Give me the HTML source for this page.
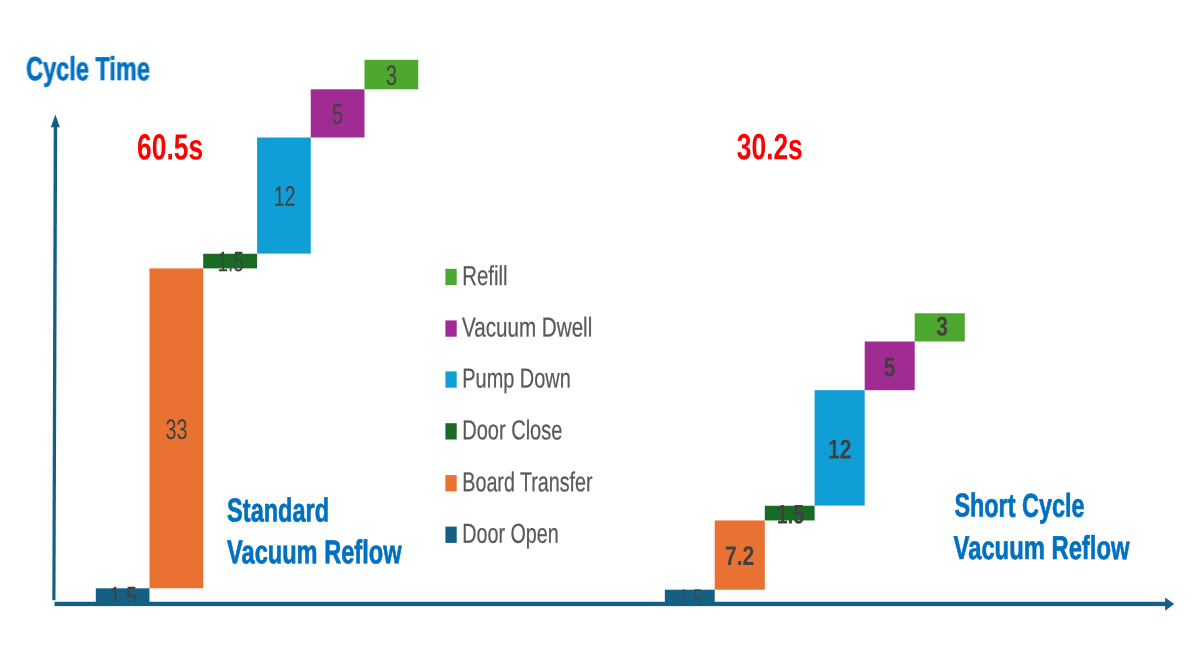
<!DOCTYPE html>
<html lang="en">
<head>
<meta charset="utf-8">
<title>Cycle Time – Standard vs Short Cycle Vacuum Reflow</title>
<style>
  html, body { margin: 0; padding: 0; background: #ffffff; }
  body { width: 1200px; height: 650px; overflow: hidden; }
  svg { display: block; }
  text { font-family: "Liberation Sans", Arial, Helvetica, sans-serif; text-rendering: geometricPrecision; }
  .title { font-weight: 700; font-size: 33px; fill: #0070C0; stroke: #0070C0; stroke-width: 0.7px; stroke-linejoin: round; }
  .total { font-weight: 700; font-size: 36.4px; fill: #FF0000; }
  .leg   { font-weight: 400; font-size: 27.4px; fill: #595959; stroke: #595959; stroke-width: 0.25px; }
  .lab   { font-weight: 400; font-size: 28.2px; fill: #404040; text-anchor: middle; }
  .labb  { font-weight: 700; font-size: 27px; fill: #404040; text-anchor: middle; }
</style>
</head>
<body>
<svg width="1200" height="650" viewBox="0 0 1200 650">
  <defs>
    <filter id="soft" x="0" y="0" width="1200" height="650" filterUnits="userSpaceOnUse" color-interpolation-filters="sRGB">
      <feGaussianBlur stdDeviation="0.45"/>
    </filter>
    <clipPath id="above-axis"><rect x="0" y="0" width="1200" height="604"/></clipPath>
  </defs>
  <rect x="0" y="0" width="1200" height="650" fill="#ffffff"/>
  <g id="chart" filter="url(#soft)">

  <!-- ===== left waterfall: Standard Vacuum Reflow ===== -->
  <g id="bars-left" shape-rendering="geometricPrecision">
    <rect x="95.8"   y="588.3"  width="53.7"  height="15.5"  fill="#156082"/>
    <rect x="149.5"  y="268.4"  width="53.7"  height="319.9" fill="#E97132"/>
    <rect x="203.2"  y="253.75" width="53.9"  height="14.65" fill="#196B24"/>
    <rect x="257.1"  y="137.5"  width="53.65" height="116.1" fill="#0F9ED5"/>
    <rect x="310.75" y="89.3"   width="53.75" height="48.2"  fill="#A02B93"/>
    <rect x="364.5"  y="59.8"   width="53.75" height="29.5"  fill="#4EA72E"/>
  </g>
  <g id="labels-left" clip-path="url(#above-axis)">
    <text class="lab" transform="translate(123.2 606.3) rotate(0.05) scale(0.70 1)">1.5</text>
    <text class="lab" transform="translate(176.4 439.0) rotate(0.05) scale(0.70 1)">33</text>
    <text class="lab" transform="translate(230.7 271.3) rotate(0.05) scale(0.68 1)">1.5</text>
    <text class="lab" transform="translate(284.6 205.8) rotate(0.05) scale(0.70 1)">12</text>
    <text class="lab" transform="translate(337.6 123.8) rotate(0.05) scale(0.72 1)">5</text>
    <text class="lab" transform="translate(391.5 85.1) rotate(0.05) scale(0.72 1)">3</text>
  </g>

  <!-- ===== right waterfall: Short Cycle Vacuum Reflow ===== -->
  <g id="bars-right">
    <rect x="664.85" y="589.7" width="49.85" height="14.3"  fill="#156082"/>
    <rect x="714.7"  y="520.45" width="50.1" height="69.25" fill="#E97132"/>
    <rect x="764.8"  y="505.75" width="49.8" height="14.7"  fill="#196B24"/>
    <rect x="814.6"  y="390.2" width="50.1"  height="115.4" fill="#0F9ED5"/>
    <rect x="864.7"  y="341.5" width="50"    height="48.7"  fill="#A02B93"/>
    <rect x="914.7"  y="313.3" width="50.1"  height="28.2"  fill="#4EA72E"/>
  </g>
  <g id="labels-right" clip-path="url(#above-axis)">
    <text class="lab" transform="translate(690.4 608.6) rotate(0.05) scale(0.6 1)" opacity="0.6">1.5</text>
    <text class="labb" transform="translate(739.6 565.1) rotate(0.05) scale(0.78 1)">7.2</text>
    <text class="labb" transform="translate(790.4 523.4) rotate(0.05) scale(0.73 1)">1.5</text>
    <text class="labb" transform="translate(839.7 458.5) rotate(0.05) scale(0.78 1)">12</text>
    <text class="labb" transform="translate(889.7 376.2) rotate(0.05) scale(0.78 1)">5</text>
    <text class="labb" transform="translate(942.2 335.6) rotate(0.05) scale(0.78 1)">3</text>
  </g>

  <!-- ===== axes ===== -->
  <g id="axes" fill="#156082" stroke="none">
    <!-- vertical axis (very slightly slanted in the source) -->
    <polygon points="53.7,127 57.2,127 55.5,600.2 52.3,600.2"/>
    <polygon points="55.4,114.5 59.9,127.3 50.8,127.3"/>
    <!-- horizontal axis -->
    <rect x="54.5" y="601.75" width="1111.5" height="4.35"/>
    <polygon points="1165.1,597.4 1174.2,604 1165.1,610.7"/>
  </g>

  <!-- ===== headings ===== -->
  <text class="title" transform="translate(26.1 80.0) rotate(0.05) scale(0.713 1)">Cycle Time</text>
  <text class="total" transform="translate(137.1 159.5) rotate(0.05) scale(0.7245 1)">60.5s</text>
  <text class="total" transform="translate(736.8 159.2) rotate(0.05) scale(0.7245 1)">30.2s</text>

  <text class="title" transform="translate(227.1 521.4) rotate(0.05) scale(0.713 1)">Standard</text>
  <text class="title" transform="translate(227.1 563.2) rotate(0.05) scale(0.715 1)">Vacuum Reflow</text>

  <text class="title" transform="translate(954.4 516.6) rotate(0.05) scale(0.709 1)">Short Cycle</text>
  <text class="title" transform="translate(953.6 559.0) rotate(0.05) scale(0.721 1)">Vacuum Reflow</text>

  <!-- ===== legend ===== -->
  <g id="legend">
    <rect x="445.4" y="268.80" width="11.3" height="16.3" fill="#4EA72E"/>
    <text class="leg" transform="translate(462.3 284.90) rotate(0.05) scale(0.742 1)">Refill</text>
    <rect x="445.4" y="320.40" width="11.3" height="16.3" fill="#A02B93"/>
    <text class="leg" transform="translate(462.0 336.50) rotate(0.05) scale(0.753 1)">Vacuum Dwell</text>
    <rect x="445.4" y="371.40" width="11.3" height="16.3" fill="#0F9ED5"/>
    <text class="leg" transform="translate(462.3 387.50) rotate(0.05) scale(0.727 1)">Pump Down</text>
    <rect x="445.4" y="423.20" width="11.3" height="16.3" fill="#196B24"/>
    <text class="leg" transform="translate(462.3 439.30) rotate(0.05) scale(0.73 1)">Door Close</text>
    <rect x="445.4" y="475.10" width="11.3" height="16.3" fill="#E97132"/>
    <text class="leg" transform="translate(462.3 491.20) rotate(0.05) scale(0.719 1)">Board Transfer</text>
    <rect x="445.4" y="526.60" width="11.3" height="16.3" fill="#156082"/>
    <text class="leg" transform="translate(462.3 542.70) rotate(0.05) scale(0.72 1)">Door Open</text>
  </g>
  </g>
</svg>
</body>
</html>
